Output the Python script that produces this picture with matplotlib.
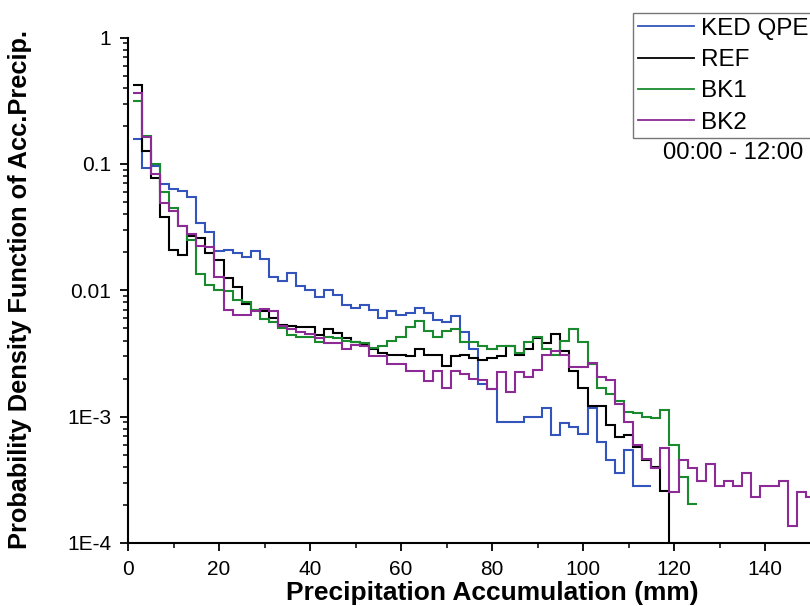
import matplotlib
matplotlib.use("Agg")
import matplotlib.pyplot as plt
import numpy as np
from matplotlib.lines import Line2D
from matplotlib.ticker import FixedLocator, MultipleLocator, LogLocator, NullFormatter, FixedFormatter

plt.rcParams['font.family'] = ['Liberation Sans', 'DejaVu Sans']

# ---- data: PDF values in 2 mm bins, first bin centred at 2 mm ----
bin_width = 2
first_center = 2

ked_qpe = [0.157, 0.092, 0.097, 0.069, 0.063, 0.061, 0.055, 0.034, 0.029, 0.0205,
           0.021, 0.0197, 0.0182, 0.0206, 0.0177, 0.0128, 0.0119, 0.0138, 0.0108, 0.0101,
           0.0089, 0.0101, 0.0092, 0.0076, 0.0073, 0.0077, 0.0070, 0.0060, 0.0068, 0.0064,
           0.0066, 0.0072, 0.0066, 0.0058, 0.0056, 0.0062, 0.0047, 0.0034, 0.0018, 0.00165,
           0.0009, 0.0009, 0.0009, 0.0010, 0.0010, 0.00117, 0.00072, 0.00089, 0.00083, 0.00073,
           0.00118, 0.00063, 0.00045, 0.00036, 0.00054, 0.00028, 0.00028]

ref = [0.42, 0.126, 0.077, 0.038, 0.021, 0.019, 0.027, 0.026, 0.0196, 0.0174,
       0.0124, 0.0106, 0.0078, 0.0070, 0.0068, 0.0060, 0.0053, 0.0052, 0.0051, 0.0051,
       0.0044, 0.0049, 0.0046, 0.0042, 0.0039, 0.0037, 0.0034, 0.0032, 0.0031, 0.0031,
       0.0030, 0.0034, 0.0031, 0.0031, 0.0025, 0.0030, 0.0031, 0.0029, 0.0028, 0.0029,
       0.0030, 0.0036, 0.0031, 0.0034, 0.0042, 0.0038, 0.0045, 0.0033, 0.0023, 0.00167,
       0.00122, 0.00122, 0.00086, 0.00069, 0.00072, 0.00057, 0.00045, 0.00040, 0.00026, 1e-6]

bk1 = [0.315, 0.166, 0.099, 0.060, 0.045, 0.032, 0.025, 0.0135, 0.011, 0.010,
       0.0098, 0.0084, 0.0080, 0.0070, 0.0059, 0.0056, 0.0050, 0.0044, 0.0043, 0.0043,
       0.0039, 0.0043, 0.0042, 0.0040, 0.0039, 0.0038, 0.0035, 0.0036, 0.0040, 0.0043,
       0.0051, 0.0057, 0.0048, 0.0043, 0.0048, 0.0049, 0.0039, 0.0039, 0.0036, 0.0034,
       0.0036, 0.0036, 0.0032, 0.0039, 0.0043, 0.0034, 0.0031, 0.0040, 0.0049, 0.0039,
       0.0026, 0.0017, 0.0015, 0.00134, 0.00108, 0.00106, 0.0010, 0.00097, 0.00112, 0.0006,
       0.00033, 0.000204]

bk2 = [0.366, 0.164, 0.083, 0.049, 0.042, 0.032, 0.028, 0.0225, 0.022, 0.0128,
       0.0070, 0.0064, 0.0064, 0.0068, 0.0071, 0.0068, 0.0052, 0.0049, 0.0047, 0.0045,
       0.0042, 0.0038, 0.0038, 0.0034, 0.0037, 0.0036, 0.0030, 0.0030, 0.0026, 0.0026,
       0.0023, 0.0023, 0.0019, 0.0023, 0.0017, 0.0023, 0.00218, 0.0020, 0.00196, 0.00165,
       0.00227, 0.00158, 0.00227, 0.00207, 0.00234, 0.00308, 0.0033, 0.0031, 0.00246, 0.00246,
       0.00265, 0.00207, 0.00196, 0.00126, 0.00091, 0.0006, 0.00046, 0.00039, 0.00056, 0.000255,
       0.00045, 0.00039, 0.00031, 0.00042, 0.00028, 0.00031, 0.00028, 0.00036, 0.00023, 0.00028,
       0.00028, 0.00031, 0.000137, 0.000255, 0.00023, 0.00023]

series_names = ['KED QPE', 'REF', 'BK1', 'BK2']
series_values = [ked_qpe, ref, bk1, bk2]
series_colors = ['#3355bb', '#000000', '#1a8a2e', '#8c2a96']

y_ticks = [1e-4, 1e-3, 1e-2, 1e-1, 1]
y_tick_labels = ['1E-4', '1E-3', '0.01', '0.1', '1']
x_ticks = [0, 20, 40, 60, 80, 100, 120, 140]

# ---- figure ----
W, H = 810, 606
fig = plt.figure(figsize=(W / 100, H / 100), dpi=100)
ax_left, ax_right, ax_top, ax_bottom = 128, 128 + 4.55 * 160, 37.5, 543
ax = fig.add_axes([ax_left / W, 1 - ax_bottom / H, (ax_right - ax_left) / W, (ax_bottom - ax_top) / H])

for vals, col in zip(series_values, series_colors):
    start = first_center - bin_width / 2
    edges = start + bin_width * np.arange(len(vals) + 1)
    ax.stairs(vals, edges, baseline=None, color=col, lw=1.5)

ax.set_yscale('log')
ax.set_ylim(1e-4, 1)
ax.set_xlim(0, 160)

ax.yaxis.set_major_locator(FixedLocator(y_ticks))
ax.yaxis.set_major_formatter(FixedFormatter(y_tick_labels))
ax.yaxis.set_minor_locator(LogLocator(base=10, subs=np.arange(2, 10)))
ax.yaxis.set_minor_formatter(NullFormatter())
ax.xaxis.set_major_locator(FixedLocator(x_ticks))
ax.xaxis.set_minor_locator(MultipleLocator(10))

ax.tick_params(which='major', direction='out', length=6, width=1.3, labelsize=15, pad=6)
ax.tick_params(which='minor', direction='out', length=3.5, width=1.1)

for s in ['top', 'right']:
    ax.spines[s].set_visible(False)
for s in ['left', 'bottom']:
    ax.spines[s].set_linewidth(1.5)

ax.set_xlabel('Precipitation Accumulation (mm)', fontsize=19, fontweight='bold', labelpad=2)
ax.set_ylabel('Probability Density Function of Acc.Precip.', fontsize=18.3, fontweight='bold')
ax.yaxis.set_label_coords(-(ax_left - 32) / (ax_right - ax_left), 0.502)

handles = [Line2D([], [], color=c, lw=1.3) for c in series_colors]
leg = fig.legend(handles, series_names, loc='upper left',
                 bbox_to_anchor=(633 / W, 1 - 13 / H), bbox_transform=fig.transFigure,
                 fontsize=17.5, frameon=True, fancybox=False, borderpad=0.2,
                 handlelength=2.3, handletextpad=0.3, labelspacing=0.38, borderaxespad=0)
leg.get_frame().set_edgecolor('#555555')
leg.get_frame().set_linewidth(1.0)

fig.text(663 / W, 1 - 153 / H, '00:00 - 12:00', fontsize=17.2, ha='left', va='center')

fig.savefig('out.png', dpi=100)
